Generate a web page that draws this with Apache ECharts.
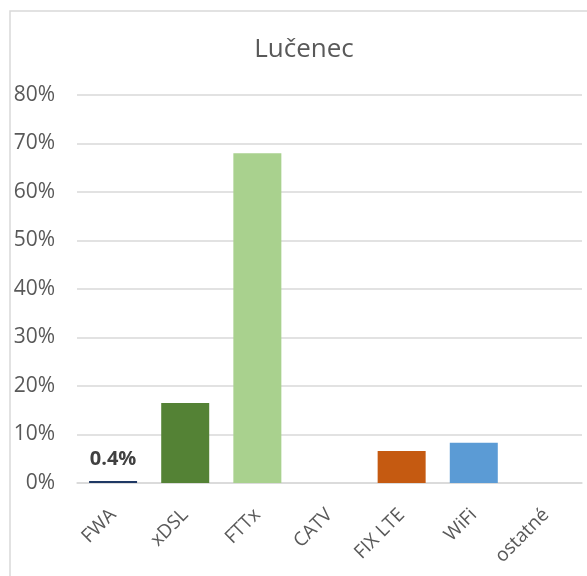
<!DOCTYPE html>
<html>
<head>
<meta charset="utf-8">
<script src="https://cdn.jsdelivr.net/npm/echarts@6/dist/echarts.min.js"></script>
<style>
  html, body { margin: 0; padding: 0; background: #ffffff; }
  #chart { width: 587px; height: 576px; }
</style>
</head>
<body>
<div id="chart"></div>
<script>
// Access technology shares in Lučenec
const categories = ['FWA', 'xDSL', 'FTTx', 'CATV', 'FIX LTE', 'WiFi', 'ostatné'];
const shares = [0.004, 0.165, 0.68, 0, 0.066, 0.083, 0];
const barColors = ['#1F3864', '#548235', '#A9D18E', '#7F7F7F', '#C55A11', '#5B9BD5', '#A5A5A5'];
const labelledIndex = 0; // only FWA carries a value label
const yTicks = { min: 0, max: 0.8, step: 0.1 };

const FONT = '"Open Sans", "Noto Sans", sans-serif';
const chart = echarts.init(document.getElementById('chart'), null, { renderer: 'canvas' });

const barData = shares.map((v, i) => ({
  value: v,
  itemStyle: { color: barColors[i] },
  label: i === labelledIndex ? {
    show: true,
    position: 'top',
    distance: 12,
    formatter: p => (p.value * 100).toFixed(1) + '%',
    fontFamily: FONT,
    fontSize: 20,
    fontWeight: 'bold',
    color: '#404040'
  } : { show: false }
}));

chart.setOption({
  animation: false,
  backgroundColor: '#ffffff',
  title: {
    text: 'Lučenec',
    left: 299,
    textAlign: 'center',
    top: 32,
    textStyle: { fontFamily: FONT, fontSize: 26, fontWeight: 'normal', color: '#595959' }
  },
  graphic: [{
    type: 'rect',
    shape: { x: 10, y: 11, width: 700, height: 700 },
    style: { fill: null, stroke: '#D9D9D9', lineWidth: 1.5 },
    silent: true
  }],
  grid: { left: 77, right: 5, top: 95, bottom: 93, containLabel: false },
  xAxis: {
    type: 'category',
    data: categories,
    axisLine: { show: true, lineStyle: { color: '#D9D9D9', width: 1.5 } },
    axisTick: { show: false },
    axisLabel: {
      rotate: 45,
      interval: 0,
      margin: 29,
      fontFamily: FONT,
      fontSize: 19,
      color: '#595959'
    }
  },
  yAxis: {
    type: 'value',
    min: yTicks.min,
    max: yTicks.max,
    interval: yTicks.step,
    axisLine: { show: false },
    axisTick: { show: false },
    splitLine: { lineStyle: { color: '#D9D9D9', width: 1.5 } },
    axisLabel: {
      margin: 22,
      fontFamily: FONT,
      fontSize: 21,
      color: '#595959',
      formatter: v => Math.round(v * 100) + '%'
    }
  },
  series: [{
    type: 'bar',
    data: barData,
    barWidth: 48
  }]
});
</script>
</body>
</html>
